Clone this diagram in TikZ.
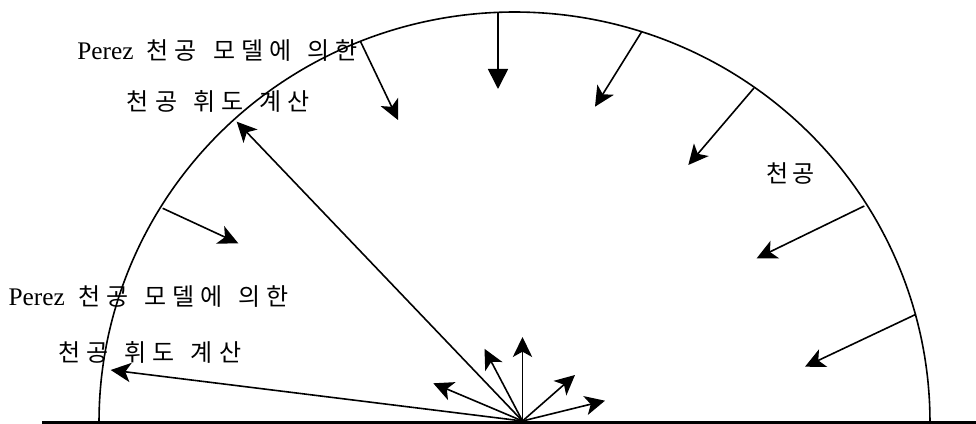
\documentclass[tikz,border=0pt]{standalone}
\usepackage{fontspec}
\setmainfont{Liberation Serif}
\newfontfamily\kr{Noto Sans CJK KR}
\usetikzlibrary{arrows.meta}
\newcommand{\gs}{\hspace{4.5pt}}
\newcommand{\ws}{\hspace{12pt}}
\newcommand{\krf}{\kr\fontsize{18}{20}\selectfont}
\begin{document}
\begin{tikzpicture}[x=0.75pt,y=-0.75pt,
  ray/.style={line width=1.2pt,-{Stealth[length=15pt,width=14.5pt,inset=4pt]}},
  rayt/.style={line width=1.2pt,-{Triangle[length=15pt,width=15pt]}},
  lbl/.style={inner sep=0pt,anchor=base west,font=\fontsize{19}{22}\selectfont},
]
\useasboundingbox (0,0) rectangle (976,424);
% ground line and sky dome
\coordinate (gL) at (42,422.5);
\coordinate (gR) at (976,422.5);
\draw[line width=2pt] (gL) -- (gR);
\draw[line width=1.2pt] plot[domain=180:360,samples=120,smooth] ({514.5+415.5*cos(\x)},{422+410*sin(\x)});
% arrows from the dome inwards
\coordinate (s1) at (498,12);     \coordinate (e1) at (498,89);
\coordinate (s2) at (641.7,31.7); \coordinate (e2) at (595,106.7);
\coordinate (s3) at (754,88);     \coordinate (e3) at (688.3,165);
\coordinate (s4) at (864.3,206);  \coordinate (e4) at (756.7,258.3);
\coordinate (s5) at (916,314.3);  \coordinate (e5) at (805,366.7);
\coordinate (s6) at (360.5,41.5); \coordinate (e6) at (398,120);
\coordinate (s8) at (162.7,208.3);\coordinate (e8) at (238.3,243.3);
\draw[rayt] (s1) -- (e1);
\draw[ray] (s2) -- (e2);
\draw[ray] (s3) -- (e3);
\draw[ray] (s4) -- (e4);
\draw[ray] (s5) -- (e5);
\draw[ray] (s6) -- (e6);
\draw[ray] (s8) -- (e8);
% fan from the ground point
\coordinate (O) at (522.5,421);
\coordinate (e7) at (236.7,121.7);
\coordinate (e9) at (110.7,370);
\coordinate (f1) at (433.3,383.3);
\coordinate (f2) at (484.5,348.8);
\coordinate (f3) at (522.5,337);
\coordinate (f4) at (575,375);
\coordinate (f5) at (605,400.7);
\draw[ray] (O) -- (e7);
\draw[ray] (O) -- (e9);
\draw[ray] (O) -- (f1);
\draw[ray] (O) -- (f2);
\draw[ray] (O) -- (f3);
\draw[ray] (O) -- (f4);
\draw[ray] (O) -- (f5);
% labels
\node[lbl] (t1) at (77,59.5) {Perez\hspace{10pt}{\krf 천\gs{}공\ws{}모\gs{}델\gs{}에\ws{}의\gs{}한}};
\node[lbl] (t2) at (126.7,111) {{\krf 천\gs{}공\ws{}휘\gs{}도\ws{}계\gs{}산}};
\node[lbl] (t3) at (8.3,306) {Perez\hspace{10pt}{\krf 천\gs{}공\ws{}모\gs{}델\gs{}에\ws{}의\gs{}한}};
\node[lbl] (t4) at (58.4,361.5) {{\krf 천\gs{}공\ws{}휘\gs{}도\ws{}계\gs{}산}};
\node[lbl] (t5) at (766.4,183) {{\krf 천\hspace{2.5pt}공}};
\end{tikzpicture}
\end{document}
